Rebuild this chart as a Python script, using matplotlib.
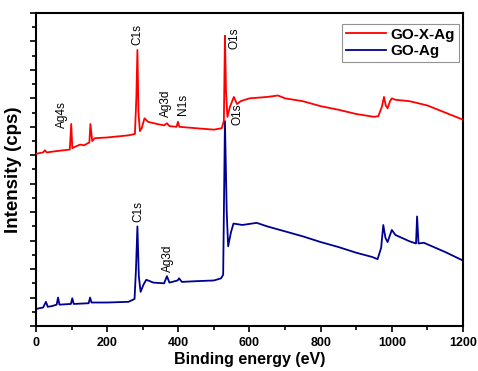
import numpy as np
import matplotlib
matplotlib.use('Agg')
import matplotlib.pyplot as plt
from matplotlib.ticker import MultipleLocator, NullFormatter

plt.rcParams['font.family'] = ['Liberation Sans', 'DejaVu Sans']
plt.rcParams['font.weight'] = 'bold'

# GO-X-Ag survey spectrum (binding energy in eV, intensity in arbitrary offset units)
red_e = [0, 20, 25, 30, 60, 95, 99, 102, 110, 124, 135, 150, 153, 158, 165, 200,
         260, 278, 282, 285, 288, 292, 297, 305, 315, 340, 360, 368, 375, 395, 399,
         403, 450, 500, 522, 528, 531, 534, 538, 545, 556, 565, 575, 600, 650, 680,
         700, 750, 800, 850, 900, 950, 962, 972, 978, 983, 988, 995, 1000, 1010,
         1050, 1100, 1150, 1200]
red_i = [12.1, 12.2, 12.35, 12.2, 12.3, 12.4, 14.2, 12.5, 12.6, 12.75, 12.7, 12.9,
         14.2, 13.0, 13.2, 13.25, 13.4, 13.5, 16.0, 19.4, 15.0, 13.7, 13.9, 14.6,
         14.35, 14.2, 14.1, 14.25, 14.05, 14.0, 14.35, 14.0, 13.9, 13.8, 13.9, 14.4,
         20.4, 16.5, 14.7, 15.4, 16.1, 15.6, 15.8, 16.0, 16.1, 16.2, 16.0, 15.8,
         15.45, 15.2, 14.9, 14.7, 14.75, 15.4, 16.1, 15.5, 15.3, 15.8, 16.0, 15.9,
         15.8, 15.5, 15.0, 14.5]

# GO-Ag survey spectrum
blue_e = [0, 20, 28, 33, 45, 58, 62, 66, 98, 102, 106, 148, 152, 156, 200, 260,
          277, 281, 285, 289, 294, 302, 310, 330, 360, 368, 375, 398, 402, 410, 450,
          500, 520, 526, 531, 536, 540, 548, 555, 580, 620, 650, 700, 750, 800, 850,
          900, 945, 960, 970, 976, 982, 988, 1000, 1010, 1050, 1068, 1071, 1075,
          1090, 1150, 1200]
blue_i = [1.2, 1.3, 1.7, 1.35, 1.4, 1.5, 2.0, 1.5, 1.55, 1.95, 1.55, 1.6, 2.0, 1.65,
          1.65, 1.7, 1.9, 4.0, 7.0, 3.5, 2.4, 2.9, 3.25, 3.05, 3.0, 3.5, 3.05, 3.2,
          3.35, 3.1, 3.15, 3.2, 3.35, 3.6, 14.4, 8.0, 5.6, 6.6, 7.2, 7.1, 7.25, 7.0,
          6.65, 6.3, 5.9, 5.55, 5.15, 4.85, 4.7, 5.5, 7.1, 6.2, 5.9, 6.75, 6.4, 5.95,
          5.8, 7.7, 5.8, 5.85, 5.2, 4.6]

# peak labels: (text, energy, bottom of label)
red_labels = [('Ag4s', 73, 13.9), ('C1s', 284, 19.75), ('Ag3d', 365, 14.7),
              ('N1s', 413, 14.8), ('O1s', 559, 19.5)]
blue_labels = [('C1s', 287, 7.3), ('Ag3d', 370, 3.8), ('O1s', 566, 14.1)]

fig = plt.figure(figsize=(4.78, 3.71), dpi=100)
ax = fig.add_axes([0.0753, 0.1213, 0.8933, 0.8437])

ax.plot(blue_e, blue_i, color='#000090', lw=1.3, label='GO-Ag', zorder=2)
ax.plot(red_e, red_i, color='#ff0000', lw=1.3, label='GO-X-Ag', zorder=3)

for txt, e, y in red_labels + blue_labels:
    ax.text(e, y, txt, rotation=90, ha='center', va='bottom', fontsize=8.5,
            fontweight='normal')

ax.set_xlim(0, 1200)
ax.set_ylim(0, 22)
ax.xaxis.set_major_locator(MultipleLocator(200))
ax.xaxis.set_minor_locator(MultipleLocator(100))
ax.yaxis.set_major_locator(MultipleLocator(2))
ax.yaxis.set_minor_locator(MultipleLocator(1))
ax.yaxis.set_major_formatter(NullFormatter())
ax.tick_params(axis='both', which='major', direction='out', length=4.5, width=1.2,
               top=False, right=False, labelsize=9)
ax.tick_params(axis='both', which='minor', direction='out', length=3, width=1.2,
               top=False, right=False)
for sp in ax.spines.values():
    sp.set_linewidth(1.5)

ax.set_xlabel('Binding energy (eV)', fontsize=11.5, fontweight='bold', labelpad=2)
ax.set_ylabel('Intensity (cps)', fontsize=13.5, fontweight='bold', labelpad=2)

handles, labels = ax.get_legend_handles_labels()
leg = ax.legend(handles[::-1], labels[::-1], loc='upper right',
                bbox_to_anchor=(0.99, 0.965), frameon=True, fancybox=False,
                edgecolor='#777777', prop={'weight': 'bold', 'size': 11},
                handlelength=2.6, borderpad=0.25, labelspacing=0.15,
                handletextpad=0.3, borderaxespad=0.0)
leg.get_frame().set_linewidth(0.8)

fig.savefig('out.png', dpi=100)
